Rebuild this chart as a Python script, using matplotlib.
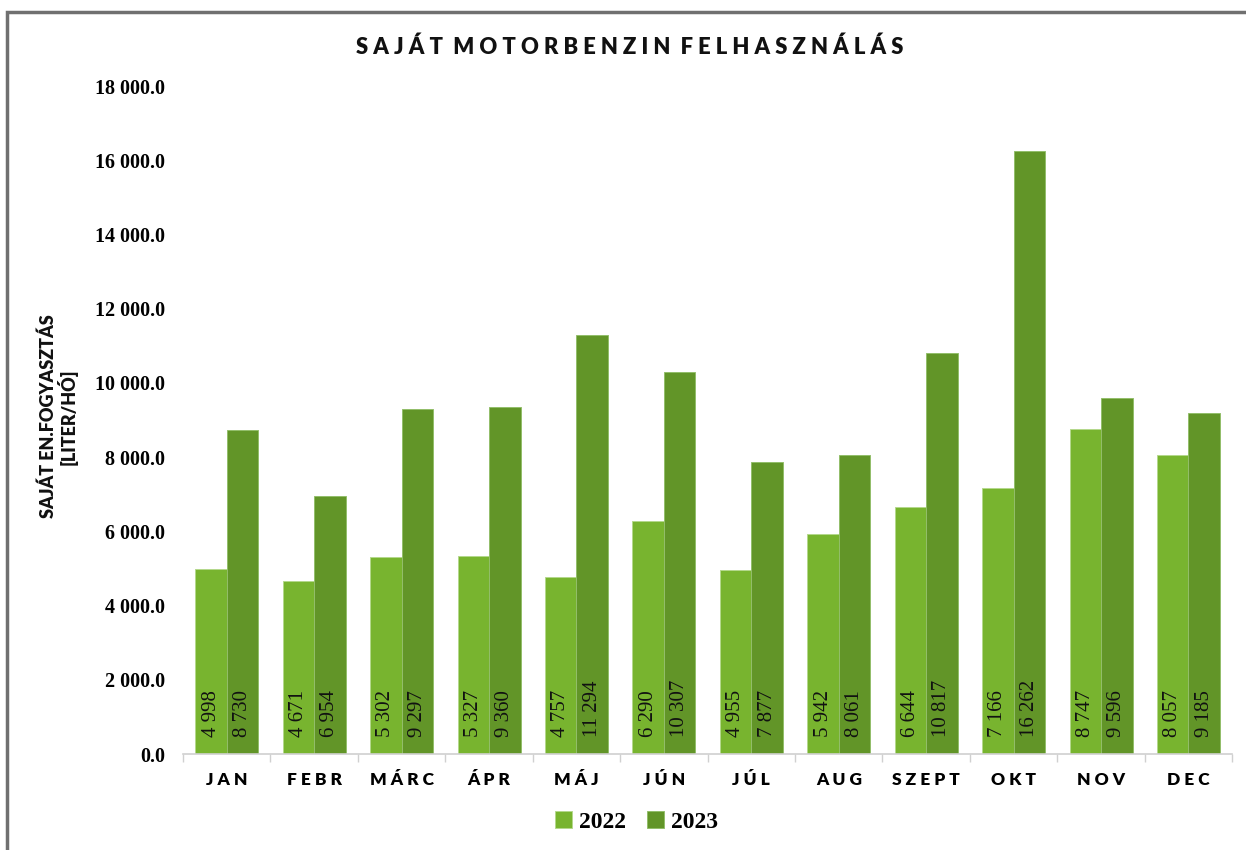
import numpy as np
import matplotlib.pyplot as plt
from matplotlib.patches import Rectangle

months = ['JAN', 'FEBR', 'MÁRC', 'ÁPR', 'MÁJ', 'JÚN', 'JÚL', 'AUG', 'SZEPT', 'OKT', 'NOV', 'DEC']
v2022 = [4998, 4671, 5302, 5327, 4757, 6290, 4955, 5942, 6644, 7166, 8747, 8057]
v2023 = [8730, 6954, 9297, 9360, 11294, 10307, 7877, 8061, 10817, 16262, 9596, 9185]
yticks = [0, 2000, 4000, 6000, 8000, 10000, 12000, 14000, 16000, 18000]

c22 = '#78B42F'
c23 = '#629528'


def spaced(s):
    return ' '.join(s)


def fmt(v, dec=False):
    s = f'{v:,.1f}' if dec else f'{v:,.0f}'
    return s.replace(',', ' ')


fig = plt.figure(figsize=(12.46, 8.5), dpi=100)
ax = fig.add_axes([0.1469, 0.1129, 0.842, 0.7859])

x = np.arange(len(months))
w = 0.36
b1 = ax.bar(x - w / 2, v2022, w, color=c22, edgecolor='#B4D88C', linewidth=0.7, label='2022')
b2 = ax.bar(x + w / 2, v2023, w, color=c23, edgecolor='#93BE6A', linewidth=0.7, label='2023')

for bars, vals in ((b1, v2022), (b2, v2023)):
    for r, v in zip(bars, vals):
        ax.annotate(fmt(v), (r.get_x() + r.get_width() / 2, 0), xytext=(0, 12),
                    textcoords='offset points', rotation=90, ha='center', va='bottom',
                    fontsize=15, family='Liberation Serif', color='#111111')

ax.set_xlim(-0.5, len(months) - 0.5)
ax.set_ylim(0, 18000)
ax.set_yticks(yticks)
ax.set_yticklabels([fmt(t, True) for t in yticks], family='Liberation Serif',
                   fontweight='bold', fontsize=14.5)
ax.tick_params(axis='y', length=0, pad=13)

ax.set_xticks(x)
ax.set_xticklabels([spaced(m) for m in months], family='Lato',
                   fontweight='heavy', fontsize=12.5, va='baseline')
ax.tick_params(axis='x', length=0, pad=22)
ax.set_xticks(np.arange(-0.5, len(months)), minor=True)
ax.tick_params(axis='x', which='minor', length=6, color='#D0D0D0', width=1)

for s in ('top', 'right', 'left'):
    ax.spines[s].set_visible(False)
ax.spines['bottom'].set_color('#D0D0D0')
ax.spines['bottom'].set_linewidth(1.2)

fig.text(0.505, 0.944, spaced('SAJÁT') + '  ' + spaced('MOTORBENZIN') + '  ' + spaced('FELHASZNÁLÁS'),
         ha='center', va='center', fontsize=15.8, fontweight='heavy', family='Lato', color='#111111')

fig.text(0.047, 0.51, 'SAJÁT EN.FOGYASZTÁS\n[LITER/HÓ]', rotation=90, ha='center', va='center',
         fontsize=13, fontweight='heavy', family='Lato', linespacing=1.0, color='#111111')

leg = fig.legend(handles=[b1, b2], labels=['2022', '2023'], loc='center', bbox_to_anchor=(0.511, 0.033),
                 ncol=2, frameon=False, handlelength=0.7, handleheight=0.7, handletextpad=0.3,
                 columnspacing=0.9, prop={'family': 'Liberation Serif', 'weight': 'bold', 'size': 17})

fig.patches.append(Rectangle((7 / 1246, -0.1), 1.2, 1.1 - 12 / 850, transform=fig.transFigure,
                             fill=False, edgecolor='#707070', linewidth=2.5, zorder=0))

fig.savefig('out.png', dpi=100)
